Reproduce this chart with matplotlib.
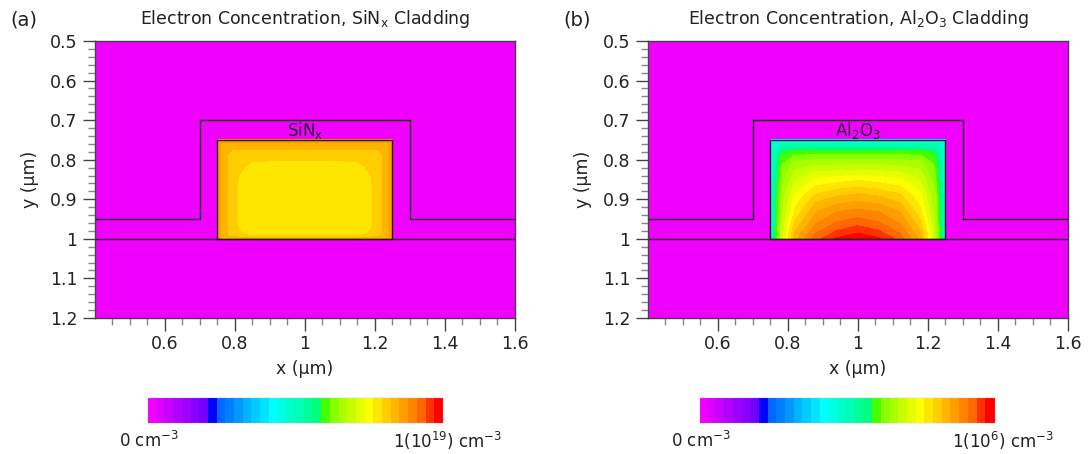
import matplotlib
matplotlib.use('Agg')

import numpy as np
import matplotlib.pyplot as plt
from matplotlib.colors import LinearSegmentedColormap, ListedColormap, BoundaryNorm
from matplotlib.cm import ScalarMappable
from matplotlib.ticker import FixedLocator, FormatStrFormatter

plt.rcParams['font.family'] = ['DejaVu Sans']
plt.rcParams['mathtext.default'] = 'regular'

# --- geometria (um) ---
clad_x = [0.4, 0.7, 0.7, 1.3, 1.3, 1.6]
clad_y = [0.95, 0.95, 0.7, 0.7, 0.95, 0.95]
sub_x = [0.4, 1.6]
sub_y = [1.0, 1.0]
core_x = [0.75, 1.25, 1.25, 0.75, 0.75]
core_y = [0.75, 0.75, 1.0, 1.0, 0.75]

# --- concentracion normalizada en el nucleo, (a) SiNx ---
xa = [0.75, 0.765, 0.79, 0.82, 0.85, 1.0, 1.15, 1.18, 1.21, 1.235, 1.25]
ya = [0.75, 0.762, 0.785, 0.815, 0.845, 0.92, 0.975, 0.99, 1.0]
na = [
    [0.87, 0.87, 0.87, 0.87, 0.87, 0.87, 0.87, 0.87, 0.87, 0.87, 0.87],
    [0.87, 0.84, 0.84, 0.84, 0.84, 0.84, 0.84, 0.84, 0.84, 0.84, 0.87],
    [0.87, 0.84, 0.81, 0.81, 0.81, 0.81, 0.81, 0.81, 0.81, 0.84, 0.87],
    [0.87, 0.84, 0.81, 0.80, 0.785, 0.78, 0.785, 0.80, 0.81, 0.84, 0.87],
    [0.87, 0.84, 0.81, 0.785, 0.78, 0.78, 0.78, 0.785, 0.81, 0.84, 0.87],
    [0.87, 0.84, 0.81, 0.78, 0.78, 0.78, 0.78, 0.78, 0.81, 0.84, 0.87],
    [0.87, 0.84, 0.81, 0.785, 0.78, 0.78, 0.78, 0.785, 0.81, 0.84, 0.87],
    [0.87, 0.84, 0.81, 0.80, 0.785, 0.78, 0.785, 0.80, 0.81, 0.84, 0.87],
    [0.87, 0.84, 0.84, 0.84, 0.84, 0.84, 0.84, 0.84, 0.84, 0.84, 0.87],
]

# --- (b) Al2O3 ---
xb = [0.75, 0.76, 0.78, 0.82, 0.88, 0.94, 1.0, 1.06, 1.12, 1.18, 1.22, 1.24, 1.25]
yb = [0.75, 0.76, 0.78, 0.81, 0.85, 0.89, 0.93, 0.96, 0.985, 1.0]
nb = [
    [0.42, 0.43, 0.43, 0.43, 0.43, 0.43, 0.43, 0.43, 0.43, 0.43, 0.43, 0.43, 0.42],
    [0.42, 0.48, 0.50, 0.50, 0.50, 0.50, 0.50, 0.50, 0.50, 0.50, 0.50, 0.48, 0.42],
    [0.42, 0.50, 0.58, 0.60, 0.60, 0.60, 0.60, 0.60, 0.60, 0.60, 0.58, 0.50, 0.42],
    [0.42, 0.52, 0.61, 0.66, 0.67, 0.67, 0.67, 0.67, 0.67, 0.66, 0.61, 0.52, 0.42],
    [0.42, 0.53, 0.63, 0.70, 0.74, 0.75, 0.76, 0.75, 0.74, 0.70, 0.63, 0.53, 0.42],
    [0.42, 0.54, 0.65, 0.74, 0.80, 0.82, 0.83, 0.82, 0.80, 0.74, 0.65, 0.54, 0.42],
    [0.42, 0.55, 0.66, 0.77, 0.85, 0.88, 0.89, 0.88, 0.85, 0.77, 0.66, 0.55, 0.42],
    [0.42, 0.55, 0.67, 0.80, 0.88, 0.915, 0.93, 0.915, 0.88, 0.80, 0.67, 0.55, 0.42],
    [0.42, 0.56, 0.68, 0.83, 0.91, 0.95, 0.97, 0.95, 0.91, 0.83, 0.68, 0.56, 0.42],
    [0.42, 0.56, 0.68, 0.84, 0.93, 0.975, 0.99, 0.975, 0.93, 0.84, 0.68, 0.56, 0.42],
]

titulos = ['Electron Concentration, SiN$_{x}$ Cladding',
           'Electron Concentration, Al$_{2}$O$_{3}$ Cladding']
etiquetas_nucleo = ['SiN$_{x}$', 'Al$_{2}$O$_{3}$']
paneles = ['(a)', '(b)']
maximos = ['1(10$^{19}$) cm$^{-3}$', '1(10$^{6}$) cm$^{-3}$']
minimo = '0 cm$^{-3}$'

# --- mapa de color discreto (34 niveles) ---
n_niveles = 34
nodos = [
    (0 / 33, (0.94, 0.0, 1.0)),
    (6 / 33, (0.45, 0.0, 1.0)),
    (7 / 33, (0.0, 0.0, 1.0)),
    (8 / 33, (0.0, 0.40, 1.0)),
    (14 / 33, (0.0, 1.0, 1.0)),
    (19 / 33, (0.0, 1.0, 0.50)),
    (20 / 33, (0.25, 1.0, 0.0)),
    (21 / 33, (0.55, 1.0, 0.0)),
    (25 / 33, (1.0, 1.0, 0.0)),
    (29 / 33, (1.0, 0.62, 0.0)),
    (31 / 33, (1.0, 0.42, 0.0)),
    (33 / 33, (1.0, 0.0, 0.0)),
]
base = LinearSegmentedColormap.from_list('arcoiris', nodos)
cmap = ListedColormap(base(np.linspace(0, 1, n_niveles)))
niveles = np.linspace(0, 1, n_niveles + 1)
norm = BoundaryNorm(niveles, cmap.N)

fig = plt.figure(figsize=(10.89, 4.54), dpi=100)
izq = [0.0872, 0.595]
ancho = 0.3857
cbar_izq = [0.135, 0.6419]
texto = '#222222'

datos = [(xa, ya, na), (xb, yb, nb)]

for i in range(2):
    ax = fig.add_axes([izq[i], 0.2996, ancho, 0.6101])
    ax.set_facecolor(cmap(0))
    xs, ys, vals = datos[i]
    X, Y = np.meshgrid(xs, ys)
    ax.contourf(X, Y, np.array(vals), levels=niveles, cmap=cmap, norm=norm)

    ax.plot(clad_x, clad_y, color=texto, lw=1.0)
    ax.plot(sub_x, sub_y, color=texto, lw=1.0)
    ax.plot(core_x, core_y, color=texto, lw=1.0)
    ax.text(1.0, 0.727, etiquetas_nucleo[i], ha='center', va='center', fontsize=12, color=texto)

    ax.set_xlim(0.4, 1.6)
    ax.set_ylim(1.2, 0.5)
    ax.xaxis.set_major_locator(FixedLocator([0.6, 0.8, 1.0, 1.2, 1.4, 1.6]))
    ax.xaxis.set_minor_locator(FixedLocator(np.round(np.arange(0.45, 1.6, 0.05), 2)))
    ax.yaxis.set_major_locator(FixedLocator(np.round(np.arange(0.5, 1.21, 0.1), 1)))
    ax.yaxis.set_minor_locator(FixedLocator(np.round(np.arange(0.5, 1.2, 0.02), 2)))
    ax.xaxis.set_major_formatter(FormatStrFormatter('%g'))
    ax.yaxis.set_major_formatter(FormatStrFormatter('%g'))
    ax.tick_params(which='major', direction='out', length=9, width=1, color='#444444',
                   labelsize=12.5, labelcolor=texto)
    ax.tick_params(which='minor', direction='out', length=5, width=1, color='#888888')
    for s in ax.spines.values():
        s.set_color('#444444')
        s.set_linewidth(1)

    ax.set_xlabel('x (μm)', fontsize=12.5, color=texto, labelpad=5)
    ax.set_ylabel('y (μm)', fontsize=12.5, color=texto, labelpad=8)
    ax.set_title(titulos[i], fontsize=12.5, color=texto, pad=12)

    fig.text(izq[i] - 0.078, 0.955, paneles[i], fontsize=14, va='center', color=texto)

    cax = fig.add_axes([cbar_izq[i], 0.0683, 0.2718, 0.0573])
    cb = fig.colorbar(ScalarMappable(norm=norm, cmap=cmap), cax=cax, orientation='horizontal')
    cb.set_ticks([])
    cb.minorticks_off()
    cax.tick_params(which='both', length=0)
    cb.solids.set_edgecolor('face')
    cb.outline.set_edgecolor('#eeeeee')
    cb.outline.set_linewidth(0.8)

    fig.text(cbar_izq[i] - 0.026, 0.028, minimo, fontsize=12, va='center', color=texto)
    fig.text(cbar_izq[i] + 0.2718 + 0.054, 0.028, maximos[i], fontsize=12, va='center',
             ha='right', color=texto)

plt.savefig('out.png', dpi=100)
plt.close()
